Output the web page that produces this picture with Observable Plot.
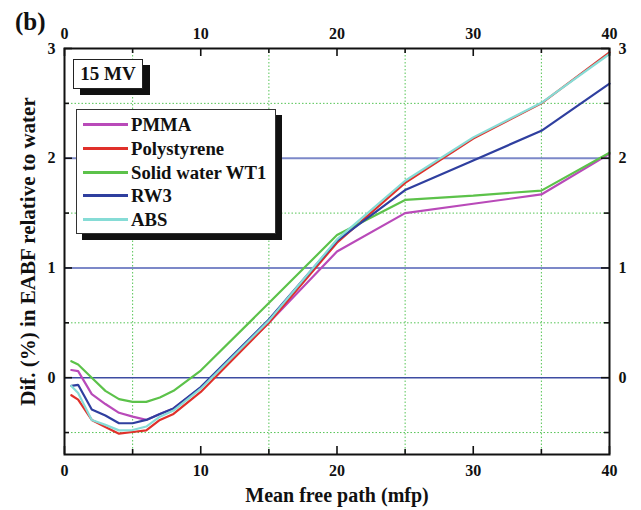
<!DOCTYPE html>
<html>
<head>
<meta charset="utf-8">
<script src="https://cdn.jsdelivr.net/npm/d3@7"></script>
<script src="https://cdn.jsdelivr.net/npm/@observablehq/plot@0.6"></script>
<style>
  body { margin: 0; background: white; }
  #wrap { position: relative; width: 641px; height: 510px; font-family: "Liberation Serif", "Times New Roman", serif; font-weight: bold; color: #111; }
  .abs { position: absolute; }
  #panel { left: 15px; top: 8px; font-size: 25px; }
  #energy { left: 73px; top: 59px; width: 68px; height: 28px; border: 1px solid #222; background: white; box-shadow: 7px 6px 0 #111; font-size: 19px; line-height: 28px; text-align: center; }
  #legend { left: 76px; top: 109px; width: 198px; height: 123px; border: 1px solid #333; background: white; box-shadow: 6px 6px 0 #111; }
  .row { position: absolute; left: 0; height: 24px; width: 198px; }
  .sw { position: absolute; left: 6px; top: 10px; width: 45px; height: 3px; }
  .lab { position: absolute; left: 54px; top: 0; font-size: 18.7px; line-height: 24px; white-space: nowrap; }
</style>
</head>
<body>
<div id="wrap"></div>
<script>
// ---- data ----
const mfp = [0.5, 1, 2, 3, 4, 5, 6, 7, 8, 10, 15, 20, 25, 30, 35, 40];
const seriesNames = ["PMMA", "Polystyrene", "Solid water WT1", "RW3", "ABS"];
const seriesColors = ["#b94ab9", "#e0302a", "#5cc24a", "#2f3f9f", "#86dcd6"];
const pmma        = [0.07, 0.06, -0.15, -0.24, -0.32, -0.355, -0.385, -0.33, -0.28, -0.09, 0.50, 1.15, 1.50, 1.585, 1.67, 2.04];
const polystyrene = [-0.16, -0.20, -0.385, -0.45, -0.51, -0.495, -0.48, -0.385, -0.33, -0.13, 0.50, 1.23, 1.775, 2.18, 2.50, 2.965];
const solidWater  = [0.15, 0.12, 0.0, -0.12, -0.195, -0.22, -0.22, -0.18, -0.12, 0.065, 0.68, 1.30, 1.62, 1.66, 1.705, 2.05];
const rw3         = [-0.075, -0.065, -0.29, -0.345, -0.415, -0.415, -0.385, -0.33, -0.28, -0.085, 0.53, 1.25, 1.71, 1.98, 2.25, 2.68];
const abs         = [-0.075, -0.14, -0.385, -0.43, -0.48, -0.477, -0.445, -0.355, -0.30, -0.10, 0.52, 1.26, 1.795, 2.19, 2.505, 2.95];
const seriesValues = [pmma, polystyrene, solidWater, rw3, abs];

const xTickLabels = [0, 10, 20, 30, 40];
const xMinor = [5, 15, 25, 35];
const yTickLabels = [0, 1, 2, 3];
const yMinor = [-0.5, 0.5, 1.5, 2.5];
const yBlueLines = [0, 1, 2];
const xTitle = "Mean free path (mfp)";
const yTitle = "Dif. (%) in EABF relative to water";
const panelLabel = "(b)";
const energyLabel = "15 MV";

// ---- build table ----
const table = [];
seriesNames.forEach((name, i) => {
  mfp.forEach((x, j) => table.push({series: name, x, y: seriesValues[i][j]}));
});

const W = 641, H = 510, mL = 64, mR = 32, mT = 48, mB = 56;
const pw = W - mL - mR, ph = H - mT - mB;
const green = "#55c455";
const fmt = d => String(d);

const chart = Plot.plot({
  width: W, height: H,
  marginLeft: mL, marginRight: mR, marginTop: mT, marginBottom: mB,
  x: {domain: [0, 40]},
  y: {domain: [-0.7, 3]},
  color: {domain: seriesNames, range: seriesColors},
  style: {fontFamily: '"Liberation Serif", "Times New Roman", serif', fontWeight: "bold", fontSize: "16px", background: "white", color: "#111"},
  marks: [
    Plot.ruleY(yMinor, {y: d => d, stroke: green, strokeWidth: 1, strokeDasharray: "1.5,2"}),
    Plot.ruleX(xMinor, {x: d => d, stroke: green, strokeWidth: 1, strokeDasharray: "1.5,2"}),
    Plot.ruleY(yBlueLines, {y: d => d, stroke: d => d === 0 ? "#3d4ca2" : "#7c88c8", strokeWidth: d => d === 0 ? 1.4 : 2}),
    Plot.line(table, {x: "x", y: "y", z: "series", stroke: "series", strokeWidth: 2.2, strokeLinejoin: "miter"}),
    // inward ticks
    Plot.tickX(xTickLabels, {x: d => d, insetTop: ph - 8, stroke: "#111", strokeWidth: 1.6}),
    Plot.tickX(xMinor, {x: d => d, insetTop: ph - 5, stroke: "#111", strokeWidth: 1.6}),
    Plot.tickX(xTickLabels, {x: d => d, insetBottom: ph - 8, stroke: "#111", strokeWidth: 1.6}),
    Plot.tickX(xMinor, {x: d => d, insetBottom: ph - 5, stroke: "#111", strokeWidth: 1.6}),
    Plot.tickY(yTickLabels, {y: d => d, insetRight: pw - 8, stroke: "#111", strokeWidth: 1.6}),
    Plot.tickY(yMinor, {y: d => d, insetRight: pw - 5, stroke: "#111", strokeWidth: 1.6}),
    Plot.tickY(yTickLabels, {y: d => d, insetLeft: pw - 8, stroke: "#111", strokeWidth: 1.6}),
    Plot.tickY(yMinor, {y: d => d, insetLeft: pw - 5, stroke: "#111", strokeWidth: 1.6}),
    Plot.frame({stroke: "#111", strokeWidth: 2}),
    // tick labels
    Plot.axisX({anchor: "bottom", ticks: xTickLabels, tickFormat: fmt, tickSize: 0, tickPadding: 10, label: null, fontWeight: "bold"}),
    Plot.axisX({anchor: "top", ticks: xTickLabels, tickFormat: fmt, tickSize: 0, tickPadding: 10, label: null, fontWeight: "bold"}),
    Plot.axisY({anchor: "left", ticks: yTickLabels, tickFormat: fmt, tickSize: 0, tickPadding: 9, label: null, fontWeight: "bold"}),
    Plot.axisY({anchor: "right", ticks: yTickLabels, tickFormat: fmt, tickSize: 0, tickPadding: 9, label: null, fontWeight: "bold"}),
    // titles
    Plot.text([xTitle], {text: d => d, frameAnchor: "bottom", lineAnchor: "middle", textAnchor: "middle", dy: 41, fontSize: 20, fontWeight: "bold"}),
    Plot.text([yTitle], {text: d => d, frameAnchor: "left", textAnchor: "middle", lineAnchor: "middle", dx: -36, rotate: -90, fontSize: 21, fontWeight: "bold"})
  ]
});

const wrap = document.getElementById("wrap");
wrap.appendChild(chart);

const p = document.createElement("div");
p.className = "abs"; p.id = "panel"; p.textContent = panelLabel;
wrap.appendChild(p);

const e = document.createElement("div");
e.className = "abs"; e.id = "energy"; e.textContent = energyLabel;
wrap.appendChild(e);

const lg = document.createElement("div");
lg.className = "abs"; lg.id = "legend";
seriesNames.forEach((name, i) => {
  const row = document.createElement("div");
  row.className = "row";
  row.style.top = (3 + i * 23.8) + "px";
  const sw = document.createElement("div");
  sw.className = "sw"; sw.style.background = seriesColors[i];
  const lab = document.createElement("div");
  lab.className = "lab"; lab.textContent = name;
  row.appendChild(sw); row.appendChild(lab);
  lg.appendChild(row);
});
wrap.appendChild(lg);
</script>
</body>
</html>
